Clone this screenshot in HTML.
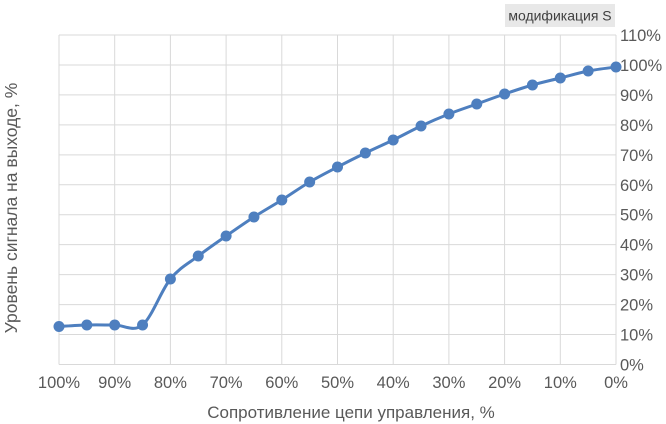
<!DOCTYPE html>
<html><head><meta charset="utf-8"><style>
body{margin:0;background:#fff;}
svg{display:block;font-family:"Liberation Sans",sans-serif;}
</style></head><body>
<svg id="s" width="666" height="424" xmlns="http://www.w3.org/2000/svg">
<g id="grid" stroke="#d9d9d9" stroke-width="1"></g>
<g id="labels" fill="#595959" font-size="16.5"></g>
<rect x="505" y="4" width="110" height="23" fill="#e8e8e8"/>
<text x="560" y="20.5" text-anchor="middle" font-size="14" fill="#404040">модификация S</text>
<text x="351" y="418" text-anchor="middle" font-size="17" fill="#595959">Сопротивление цепи управления, %</text>
<text transform="translate(17,208) rotate(-90)" text-anchor="middle" font-size="17.5" fill="#595959">Уровень сигнала на выходе, %</text>
<path id="line" fill="none" stroke="#4e7fbf" stroke-width="3"/>
<g id="pts" fill="#4e7fbf"></g>
</svg>
<script>
var ns="http://www.w3.org/2000/svg";
function el(p,t,a,txt){var e=document.createElementNS(ns,t);for(var k in a)e.setAttribute(k,a[k]);if(txt)e.textContent=txt;document.getElementById(p).appendChild(e);}
var x0=59,x1=616,yb=364.5,yt=35;
var dx=(x1-x0)/10,dy=(yb-yt)/11;
for(var i=0;i<=10;i++){var x=x0+i*dx;el("grid","line",{x1:x,x2:x,y1:yt,y2:yb});
el("labels","text",{x:x,y:388,"text-anchor":"middle"},(100-i*10)+"%");}
for(var j=0;j<=11;j++){var y=yb-j*dy;el("grid","line",{x1:x0,x2:x1,y1:y,y2:y});
el("labels","text",{x:620,y:y+6},(j*10)+"%");}
var ys=[326.5,325,325,325,279,256,236,217,200,182,167,153,140,126,114,104,94,85,78,71,67];
var P=ys.map(function(y,i){return [x0+i*dx/2,y];});
var d="M"+P[0][0]+","+P[0][1];
for(var i=0;i<P.length-1;i++){var p0=P[Math.max(i-1,0)],p1=P[i],p2=P[i+1],p3=P[Math.min(i+2,P.length-1)];
var t=1/6;
d+=" C"+(p1[0]+(p2[0]-p0[0])*t)+","+(p1[1]+(p2[1]-p0[1])*t)+" "+(p2[0]-(p3[0]-p1[0])*t)+","+(p2[1]-(p3[1]-p1[1])*t)+" "+p2[0]+","+p2[1];}
document.getElementById("line").setAttribute("d",d);
P.forEach(function(p){el("pts","circle",{cx:p[0],cy:p[1],r:5.5});});
</script>
</body></html>
